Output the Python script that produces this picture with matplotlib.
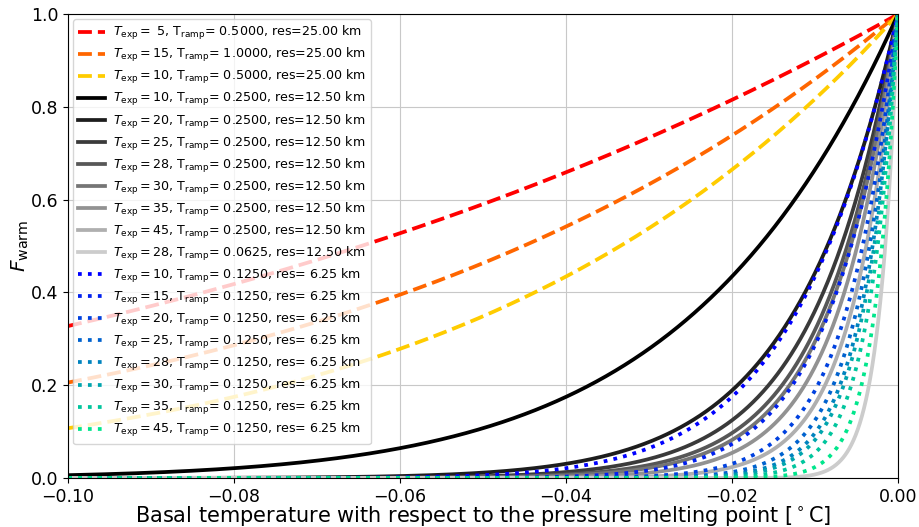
import numpy as np
import matplotlib
matplotlib.use('Agg')
import matplotlib.pyplot as plt


# ramp parameters
t_exp_25 = [5, 15, 10]
t_ramp_25 = [0.5, 1.0, 0.5]
t_exp_12 = [10, 20, 25, 28, 30, 35, 45, 28]
t_ramp_12 = [0.25, 0.25, 0.25, 0.25, 0.25, 0.25, 0.25, 0.0625]
t_exp_6 = [10, 15, 20, 25, 28, 30, 35, 45]
t_ramp_6 = [0.125] * 8
resolutions = [25.0, 12.5, 6.25]

# basal temperature relative to pressure melting point
t_base = np.linspace(-0.1, 0.0, 2001)


def f_warm(t, t_exp, t_ramp):
    return np.clip(1.0 + t / t_ramp, 0.0, None) ** t_exp


def make_label(t_exp, t_ramp, res):
    return (r'$T_\mathrm{exp}=$%2d, T$_\mathrm{ramp}$= %.4f, res=%5.2f km'
            % (t_exp, t_ramp, res))


fig = plt.figure(figsize=(9.2, 5.27), dpi=100)
ax = fig.add_axes([0.074, 0.093, 0.902, 0.880])

groups = [
    (t_exp_25, t_ramp_25, resolutions[0], plt.cm.autumn(np.linspace(0, 0.8, 3)), '--'),
    (t_exp_12, t_ramp_12, resolutions[1], plt.cm.gray(np.linspace(0, 0.8, 8)), '-'),
    (t_exp_6, t_ramp_6, resolutions[2], plt.cm.winter(np.linspace(0, 0.9, 8)), ':'),
]

for exps, ramps, res, cols, ls in groups:
    for te, tr, c in zip(exps, ramps, cols):
        ax.plot(t_base, f_warm(t_base, te, tr), ls=ls, color=c, lw=2.7,
                label=make_label(te, tr, res))

ax.set_xlim(-0.1, 0.0)
ax.set_ylim(0.0, 1.0)
ax.grid(True, color='#c8c8c8', lw=0.8)
ax.tick_params(labelsize=12.5)
ax.set_xlabel(r'Basal temperature with respect to the pressure melting point [$^\circ$C]',
              fontsize=15, labelpad=-1)
ax.set_ylabel(r'$F_\mathrm{warm}$', fontsize=14.5, labelpad=0)
ax.legend(loc='upper left', fontsize=9.1, labelspacing=0.32, handlelength=2.1,
          handletextpad=0.65, borderaxespad=0.4)

fig.savefig('out.png', dpi=100)
